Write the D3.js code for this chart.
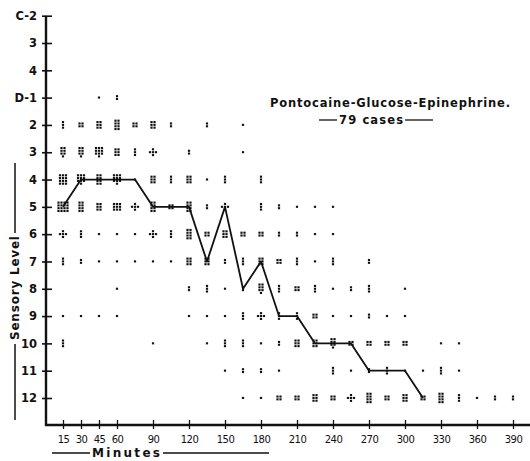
<!DOCTYPE html>
<html>
<head>
<meta charset="UTF-8">
<title>Pontocaine-Glucose-Epinephrine</title>
<script src="https://d3js.org/d3.v7.min.js"></script>
<style>
    body { margin: 0; background: #fff; }
    svg text { font-family: "DejaVu Sans", sans-serif; fill: #111; }
</style>
</head>
<body>
<svg id="chart" width="530" height="461"></svg>
<script>
// minutes after injection, one column of dots every 15 min
const times = [15, 30, 45, 60, 75, 90, 105, 120, 135, 150, 165, 180, 195, 210, 225,
    240, 255, 270, 285, 300, 315, 330, 345, 360, 375, 390];
const xTicks = [15, 30, 45, 60, 90, 120, 150, 180, 210, 240, 270, 300, 330, 360, 390];

// sensory levels, top to bottom
const levels = ["C2", "C3", "C4", "D1", "D2", "D3", "D4", "D5", "D6", "D7", "D8", "D9", "D10", "D11", "D12"];
const levelLabels = ["C-2", "3", "4", "D-1", "2", "3", "4", "5", "6", "7", "8", "9", "10", "11", "12"];

// number of cases at each level (rows) for each time (columns)
const counts = [
    /* C2  */ [0, 0, 0, 0, 0, 0, 0, 0, 0, 0, 0, 0, 0, 0, 0, 0, 0, 0, 0, 0, 0, 0, 0, 0, 0, 0],
    /* C3  */ [0, 0, 0, 0, 0, 0, 0, 0, 0, 0, 0, 0, 0, 0, 0, 0, 0, 0, 0, 0, 0, 0, 0, 0, 0, 0],
    /* C4  */ [0, 0, 0, 0, 0, 0, 0, 0, 0, 0, 0, 0, 0, 0, 0, 0, 0, 0, 0, 0, 0, 0, 0, 0, 0, 0],
    /* D1  */ [0, 0, 1, 2, 0, 0, 0, 0, 0, 0, 0, 0, 0, 0, 0, 0, 0, 0, 0, 0, 0, 0, 0, 0, 0, 0],
    /* D2  */ [3, 4, 6, 8, 4, 6, 2, 0, 2, 0, 1, 0, 0, 0, 0, 0, 0, 0, 0, 0, 0, 0, 0, 0, 0, 0],
    /* D3  */ [7, 7, 10, 6, 3, 5, 0, 2, 0, 0, 1, 0, 0, 0, 0, 0, 0, 0, 0, 0, 0, 0, 0, 0, 0, 0],
    /* D4  */ [12, 10, 8, 10, 1, 6, 3, 6, 1, 3, 0, 3, 0, 0, 0, 0, 0, 0, 0, 0, 0, 0, 0, 0, 0, 0],
    /* D5  */ [16, 8, 6, 9, 5, 8, 4, 8, 2, 5, 0, 3, 2, 1, 1, 1, 0, 0, 0, 0, 0, 0, 0, 0, 0, 0],
    /* D6  */ [5, 3, 1, 1, 1, 5, 3, 8, 4, 6, 4, 4, 2, 2, 1, 1, 0, 0, 0, 0, 0, 0, 0, 0, 0, 0],
    /* D7  */ [3, 2, 1, 1, 1, 1, 1, 6, 6, 2, 3, 6, 4, 3, 1, 3, 0, 2, 0, 0, 0, 0, 0, 0, 0, 0],
    /* D8  */ [0, 0, 0, 1, 0, 0, 0, 2, 3, 1, 2, 7, 3, 4, 3, 1, 2, 3, 0, 1, 0, 0, 0, 0, 0, 0],
    /* D9  */ [1, 1, 1, 1, 0, 0, 0, 1, 1, 1, 3, 5, 3, 3, 4, 1, 1, 2, 1, 1, 0, 0, 0, 0, 0, 0],
    /* D10 */ [3, 0, 0, 0, 0, 1, 0, 0, 1, 3, 3, 1, 2, 6, 6, 7, 4, 4, 4, 4, 0, 1, 1, 0, 0, 0],
    /* D11 */ [0, 0, 0, 0, 0, 0, 0, 0, 0, 1, 2, 2, 1, 0, 0, 3, 1, 2, 3, 1, 1, 3, 1, 0, 0, 0],
    /* D12 */ [0, 0, 0, 0, 0, 0, 0, 0, 0, 0, 1, 1, 4, 4, 6, 4, 5, 8, 4, 6, 4, 8, 3, 1, 2, 2]
];

// median level line
const medianTimes = [15, 30, 45, 60, 75, 90, 105, 120, 135, 150, 165, 180, 195, 210, 225, 240, 255, 270, 285, 300, 315];
const medianLevels = ["D5", "D4", "D4", "D4", "D4", "D5", "D5", "D5", "D7", "D5", "D8", "D7", "D9", "D9",
    "D10", "D10", "D10", "D11", "D11", "D11", "D12"];

const svg = d3.select("#chart");
const ink = "#111";

const x = d3.scaleLinear().domain([0, 390]).range([45, 513]);
const y = d3.scalePoint().domain(levels).range([15.7, 398]);
const axisY = 425, axisX = 46;

// cells with a count
const cells = [];
levels.forEach((lv, i) => {
    times.forEach((t, j) => {
        if (counts[i][j] > 0) cells.push({ t: t, level: lv, n: counts[i][j] });
    });
});

// little cluster of dots, one dot per case
function cluster(n) {
    const pts = [];
    if (n === 5) {
        return [[0, -2.9], [-3, 0], [0, 0], [3, 0], [0, 2.9]];
    }
    const cols = n <= 3 ? 1 : n <= 8 ? 2 : n <= 12 ? 3 : 4;
    const rows = Math.ceil(n / cols);
    const dx = 3, dy = 2.8;
    for (let k = 0; k < n; k++) {
        const r = Math.floor(k / cols);
        const c = k % cols;
        const inRow = Math.min(cols, n - r * cols);
        pts.push([(c - (inRow - 1) / 2) * dx, (r - (rows - 1) / 2) * dy]);
    }
    return pts;
}

const g = svg.append("g");
cells.forEach(d => {
    const cx = x(d.t), cy = y(d.level);
    g.selectAll(null)
        .data(cluster(d.n))
        .enter()
        .append("rect")
        .attr("x", p => cx + p[0] - 1.1)
        .attr("y", p => cy + p[1] - 1.1)
        .attr("width", 2.2)
        .attr("height", 2.1)
        .attr("fill", ink);
});

// median line
const medians = medianTimes.map((t, i) => ({ t: t, level: medianLevels[i] }));
svg.append("path")
    .datum(medians)
    .attr("fill", "none")
    .attr("stroke", ink)
    .attr("stroke-width", 1.8)
    .attr("stroke-linejoin", "round")
    .attr("d", d3.line().x(d => x(d.t)).y(d => y(d.level)));

// axes lines
svg.append("path")
    .attr("d", `M${axisX},${y("C2")}V${axisY}H530`)
    .attr("fill", "none")
    .attr("stroke", ink)
    .attr("stroke-width", 2.4);

const leftAxis = d3.axisLeft(y)
    .tickSize(0)
    .tickPadding(9)
    .tickFormat((d, i) => levelLabels[i]);
const yAxis = svg.append("g")
    .attr("transform", `translate(${axisX},0)`)
    .call(leftAxis);
yAxis.select(".domain").remove();
yAxis.selectAll(".tick line")
    .attr("x1", -4).attr("x2", 6)
    .attr("stroke", ink).attr("stroke-width", 1.6);
yAxis.selectAll(".tick text")
    .style("font-size", "11.5px")
    .style("font-weight", "bold")
    .attr("fill", ink);

const bottomAxis = d3.axisBottom(x)
    .tickValues(xTicks)
    .tickSize(0)
    .tickPadding(11);
const xAxis = svg.append("g")
    .attr("transform", `translate(0,${axisY})`)
    .call(bottomAxis);
xAxis.select(".domain").remove();
xAxis.selectAll(".tick line")
    .attr("y1", -5).attr("y2", 4)
    .attr("stroke", ink).attr("stroke-width", 1.3);
xAxis.selectAll(".tick text")
    .style("font-size", "10px")
    .style("letter-spacing", "-0.6px")
    .attr("fill", ink);

// axis titles
svg.append("text")
    .attr("transform", "translate(19,288) rotate(-90)")
    .attr("text-anchor", "middle")
    .style("font-size", "12px")
    .style("font-weight", "bold")
    .attr("textLength", 104)
    .text("Sensory Level");
svg.append("line").attr("x1", 15).attr("x2", 15).attr("y1", 163).attr("y2", 233)
    .attr("stroke", ink).attr("stroke-width", 1.5);
svg.append("line").attr("x1", 15).attr("x2", 15).attr("y1", 344).attr("y2", 420)
    .attr("stroke", ink).attr("stroke-width", 1.5);

svg.append("text")
    .attr("x", 92).attr("y", 457)
    .style("font-size", "12px")
    .style("font-weight", "bold")
    .attr("textLength", 68)
    .text("Minutes");
svg.append("line").attr("x1", 52).attr("x2", 90).attr("y1", 453).attr("y2", 453)
    .attr("stroke", ink).attr("stroke-width", 1.3);
svg.append("line").attr("x1", 163).attr("x2", 269).attr("y1", 453).attr("y2", 453)
    .attr("stroke", ink).attr("stroke-width", 1.3);

// title
svg.append("text")
    .attr("x", 270).attr("y", 107)
    .style("font-size", "11.5px")
    .style("font-weight", "bold")
    .attr("textLength", 240)
    .text("Pontocaine-Glucose-Epinephrine.");
svg.append("text")
    .attr("x", 339).attr("y", 124)
    .style("font-size", "11.5px")
    .style("font-weight", "bold")
    .attr("textLength", 64)
    .text("79 cases");
svg.append("line").attr("x1", 319).attr("x2", 337).attr("y1", 120).attr("y2", 120)
    .attr("stroke", ink).attr("stroke-width", 1.3);
svg.append("line").attr("x1", 405).attr("x2", 433).attr("y1", 120).attr("y2", 120)
    .attr("stroke", ink).attr("stroke-width", 1.3);
</script>
</body>
</html>
